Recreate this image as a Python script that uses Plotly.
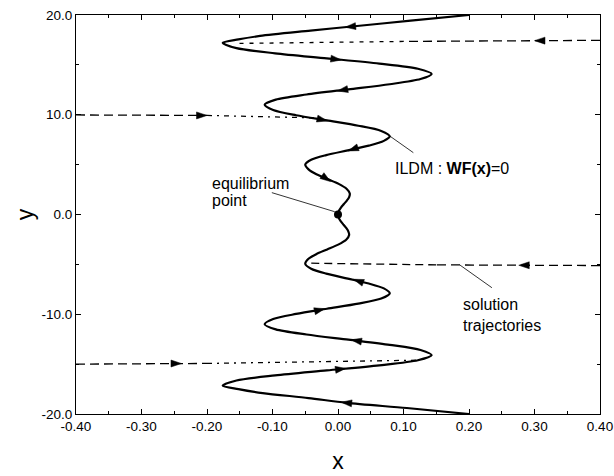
import math
import plotly.graph_objects as go

# ILDM curve WF(x)=0, listed from top (y=20) to bottom (y=-20)
ildm_y = [20.0, 19.43, 18.9, 18.43, 17.9, 17.55, 17.2,
          16.68, 16.16, 15.65, 15.13, 14.61, 14.09,
          13.58, 13.06, 12.55, 12.03, 11.52, 11.0,
          10.48, 9.95, 9.43, 8.90, 8.38, 7.85,
          7.38, 6.90, 6.43, 5.95, 5.48, 5.0,
          4.52, 4.03, 3.55, 3.07, 2.58, 2.1,
          1.75, 1.4, 1.05, 0.7, 0.35, 0.0,
          -0.34, -0.68, -1.03, -1.37, -1.71, -2.05,
          -2.53, -3.02, -3.50, -3.98, -4.47, -4.95,
          -5.44, -5.93, -6.43, -6.92, -7.41, -7.9,
          -8.42, -8.93, -9.45, -9.97, -10.48, -11.0,
          -11.52, -12.03, -12.55, -13.07, -13.58, -14.1,
          -14.61, -15.12, -15.63, -16.13, -16.64, -17.15,
          -17.5, -17.9, -18.4, -18.88, -19.4, -20.0]
ildm_x = [0.200, 0.111, 0.029, -0.042, -0.119, -0.152, -0.176,
          -0.155, -0.096, -0.017, 0.063, 0.122, 0.143,
          0.126, 0.079, 0.016, -0.048, -0.095, -0.112,
          -0.099, -0.064, -0.017, 0.031, 0.066, 0.079,
          0.070, 0.047, 0.015, -0.018, -0.041, -0.050,
          -0.045, -0.033, -0.016, 0.001, 0.013, 0.018,
          0.017, 0.0135, 0.009, 0.0045, 0.0012, 0.0,
          0.0011, 0.0043, 0.0085, 0.0128, 0.0159, 0.017,
          0.0125, 0.0003, -0.0165, -0.0333, -0.0455, -0.050,
          -0.041, -0.018, 0.015, 0.047, 0.070, 0.079,
          0.066, 0.031, -0.017, -0.064, -0.099, -0.112,
          -0.095, -0.048, 0.016, 0.079, 0.126, 0.143,
          0.122, 0.063, -0.017, -0.096, -0.155, -0.176,
          -0.152, -0.115, -0.045, 0.013, 0.105, 0.200]

# flow direction markers on the manifold
flow_x = [0.019, -0.003, 0.007, -0.024, 0.023, -0.018,
          0.031, -0.028, 0.028, 0.004, 0.013]
flow_y = [18.83, 15.56, 12.48, 9.5, 6.55, 3.6,
          -6.67, -9.57, -12.65, -15.5, -18.88]
flow_angle = [186, -7, 190, -13, 200, -35,
              160, 14, 170, 8, 174]

# solution trajectories: (x list, y list), each split into far / near parts
traj_far = [
    ([0.40, 0.10], [17.46, 17.35]),
    ([-0.40, -0.20], [9.98, 9.93]),
    ([0.40, 0.15], [-5.12, -5.05]),
    ([-0.40, -0.20], [-15.0, -14.93]),
]
traj_near = [
    ([0.10, -0.155], [17.35, 17.15]),
    ([-0.20, -0.03], [9.93, 9.68]),
    ([0.15, -0.045], [-5.05, -4.88]),
    ([-0.20, 0.125], [-14.93, -14.6]),
]
traj_far_dash = ["9px,5px", "9px,5px", "9px,5px", "9px,5px"]
traj_near_dash = ["4px,6px", "5px,5px,2px,5px", "8px,5px", "5px,5px,2px,5px"]

traj_arrow_x = [0.308, -0.208, 0.284, -0.247]
traj_arrow_y = [17.43, 9.93, -5.09, -14.94]
traj_arrow_angle = [180, 0, 180, 0]

eq_x = [0.0]
eq_y = [0.0]

x_ticks = [-0.4, -0.3, -0.2, -0.1, 0.0, 0.1, 0.2, 0.3, 0.4]
x_ticktext = ["-0.40", "-0.30", "-0.20", "-0.10", "0.00", "0.10", "0.20", "0.30", "0.40"]
y_ticks = [-20, -10, 0, 10, 20]
y_ticktext = ["-20.0", "-10.0", "0.0", "10.0", "20.0"]

FONT = "Liberation Sans, Arial, Helvetica, sans-serif"

fig = go.Figure()

fig.add_trace(go.Scatter(
    x=ildm_x, y=ildm_y, mode="lines",
    line=dict(color="black", width=2.2, shape="spline", smoothing=0.8),
    hoverinfo="skip", showlegend=False,
))

for (xs, ys), d in zip(traj_far, traj_far_dash):
    fig.add_trace(go.Scatter(x=xs, y=ys, mode="lines",
                             line=dict(color="black", width=1.3, dash=d),
                             hoverinfo="skip", showlegend=False))
for (xs, ys), d in zip(traj_near, traj_near_dash):
    fig.add_trace(go.Scatter(x=xs, y=ys, mode="lines",
                             line=dict(color="black", width=1.3, dash=d),
                             hoverinfo="skip", showlegend=False))

fig.add_trace(go.Scatter(
    x=eq_x, y=eq_y, mode="markers",
    marker=dict(color="black", size=8),
    hoverinfo="skip", showlegend=False,
))


def head_path(angle_deg, length=10.5, width=7.0):
    a = math.radians(angle_deg)
    ux, uy = math.cos(a), math.sin(a)
    px, py = -uy, ux
    hl, hw = length / 2.0, width / 2.0
    pts = [(ux * hl, uy * hl),
           (-ux * hl + px * hw, -uy * hl + py * hw),
           (-ux * hl - px * hw, -uy * hl - py * hw)]
    return "M{:.2f},{:.2f} L{:.2f},{:.2f} L{:.2f},{:.2f} Z".format(
        pts[0][0], pts[0][1], pts[1][0], pts[1][1], pts[2][0], pts[2][1])


shapes = []
for xa, ya, ang in list(zip(flow_x, flow_y, flow_angle)) + \
        list(zip(traj_arrow_x, traj_arrow_y, traj_arrow_angle)):
    shapes.append(dict(
        type="path", xref="x", yref="y",
        xsizemode="pixel", ysizemode="pixel",
        xanchor=xa, yanchor=ya, path=head_path(ang),
        fillcolor="black", line=dict(color="black", width=0.5),
    ))

# leader lines for the labels
leaders = [
    (0.079, 7.87, 0.115, 6.20),
    (-0.101, 2.19, -0.005, 0.28),
    (0.186, -5.06, 0.235, -7.34),
]
for x0, y0, x1, y1 in leaders:
    shapes.append(dict(type="line", xref="x", yref="y",
                       x0=x0, y0=y0, x1=x1, y1=y1,
                       line=dict(color="black", width=0.8)))

ann_font = dict(family=FONT, size=16, color="black")
annotations = [
    dict(x=0.084, y=4.66, text="ILDM : <b>WF(x)</b>=0"),
    dict(x=-0.195, y=3.1, text="equilibrium"),
    dict(x=-0.195, y=1.4, text="point"),
    dict(x=0.188, y=-9.07, text="solution"),
    dict(x=0.188, y=-11.1, text="trajectories"),
]
for a in annotations:
    a.update(xref="x", yref="y", xanchor="left", yanchor="middle",
             showarrow=False, font=ann_font)

axis_common = dict(
    showline=True, linecolor="black", linewidth=1, mirror="ticks",
    ticks="inside", ticklen=5, tickwidth=1, tickcolor="black",
    showgrid=False, zeroline=False,
    tickfont=dict(family=FONT, size=13.5, color="black"),
)

fig.update_layout(
    width=614, height=476,
    margin=dict(l=76, r=14, t=15, b=62, autoexpand=False),
    paper_bgcolor="white", plot_bgcolor="white",
    font=dict(family=FONT, color="black"),
    shapes=shapes, annotations=annotations,
    xaxis=dict(
        range=[-0.4, 0.4], tickmode="array", tickvals=x_ticks, ticktext=x_ticktext,
        minor=dict(tick0=0, dtick=0.05, ticks="inside", ticklen=3, tickcolor="black"),
        title=dict(text="x", font=dict(family=FONT, size=23), standoff=19),
        **axis_common,
    ),
    yaxis=dict(
        range=[-20, 20], tickmode="array", tickvals=y_ticks, ticktext=y_ticktext,
        minor=dict(tick0=0, dtick=5, ticks="inside", ticklen=3, tickcolor="black"),
        title=dict(text="y", font=dict(family=FONT, size=23), standoff=1),
        **axis_common,
    ),
)

fig.write_html("out.html")
